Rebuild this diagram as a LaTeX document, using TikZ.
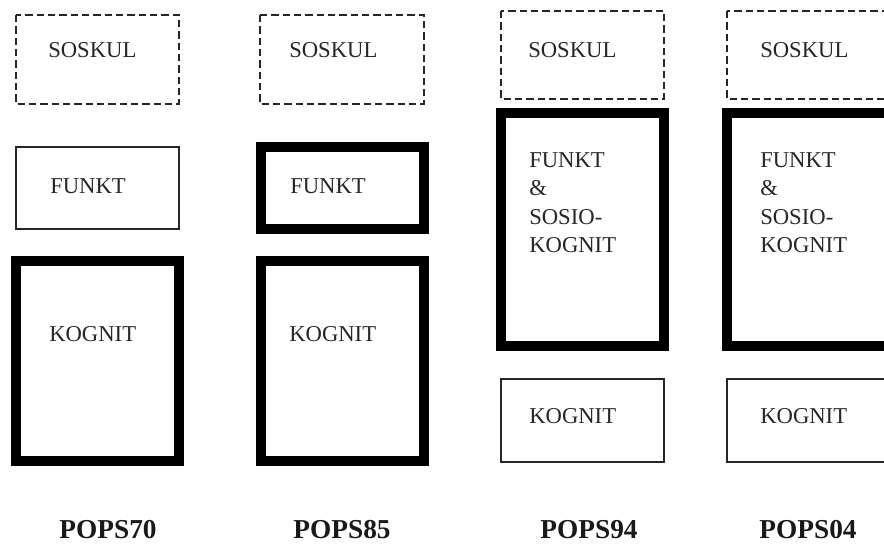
\documentclass[tikz,border=0pt]{standalone}
\usepackage{fontspec}
\setmainfont{Liberation Serif}
\tikzset{
  px/.style={x=0.75pt,y=-0.75pt},
  dashbox/.style={draw=black!85, line width=1.3pt, dash pattern=on 5.5pt off 3pt},
  thinbox/.style={draw=black!85, line width=1pt},
  thickbox/.style={draw=black, line width=7.5pt},
  lbl/.style={inner sep=0pt, anchor=base west, text=black!85, font=\fontsize{17}{20}\selectfont},
  title/.style={inner sep=0pt, anchor=base, text=black!90, font=\fontsize{20.5}{24}\selectfont\bfseries},
}
\newcommand\stacklines[1]{\vtop{\baselineskip=21.4pt\relax #1}}
\begin{document}
\begin{tikzpicture}[px]
\useasboundingbox (0,0) rectangle (884,544);
\clip (0,0) rectangle (884,544);
% column 1 (POPS70)
\draw[dashbox] (16,15) rectangle (179,104);
\node[lbl] (s1) at (48,57) {SOSKUL};
\draw[thinbox] (16,147) rectangle (179,229);
\node[lbl] (f1) at (50,193) {FUNKT};
\draw[thickbox] (16,261) rectangle (179,461);
\node[lbl] (k1) at (49,341) {KOGNIT};
\node[title] (t1) at (108,538) {POPS70};
% column 2 (POPS85)
\draw[dashbox] (260,15) rectangle (424,104);
\node[lbl] (s2) at (289,57) {SOSKUL};
\draw[thickbox] (261,147) rectangle (424,229);
\node[lbl] (f2) at (290,193) {FUNKT};
\draw[thickbox] (261,261) rectangle (424,461);
\node[lbl] (k2) at (289,341) {KOGNIT};
\node[title] (t2) at (342,538) {POPS85};
% column 3 (POPS94)
\draw[dashbox] (501,11) rectangle (664,99);
\node[lbl] (s3) at (528,57) {SOSKUL};
\draw[thickbox] (501,113) rectangle (664,346);
\node[lbl] (fs3) at (529,167) {\stacklines{\hbox{FUNKT}\hbox{\&}\hbox{SOSIO-}\hbox{KOGNIT}}};
\draw[thinbox] (501,379) rectangle (664,462);
\node[lbl] (k3) at (529,423) {KOGNIT};
\node[title] (t3) at (589,538) {POPS94};
% column 4 (POPS04), clipped at the right edge
\draw[dashbox] (727,11) rectangle (890,99);
\node[lbl] (s4) at (760,57) {SOSKUL};
\draw[thickbox] (727,113) rectangle (890,346);
\node[lbl] (fs4) at (760,167) {\stacklines{\hbox{FUNKT}\hbox{\&}\hbox{SOSIO-}\hbox{KOGNIT}}};
\draw[thinbox] (727,379) rectangle (890,462);
\node[lbl] (k4) at (760,423) {KOGNIT};
\node[title] (t4) at (808,538) {POPS04};
\end{tikzpicture}
\end{document}
